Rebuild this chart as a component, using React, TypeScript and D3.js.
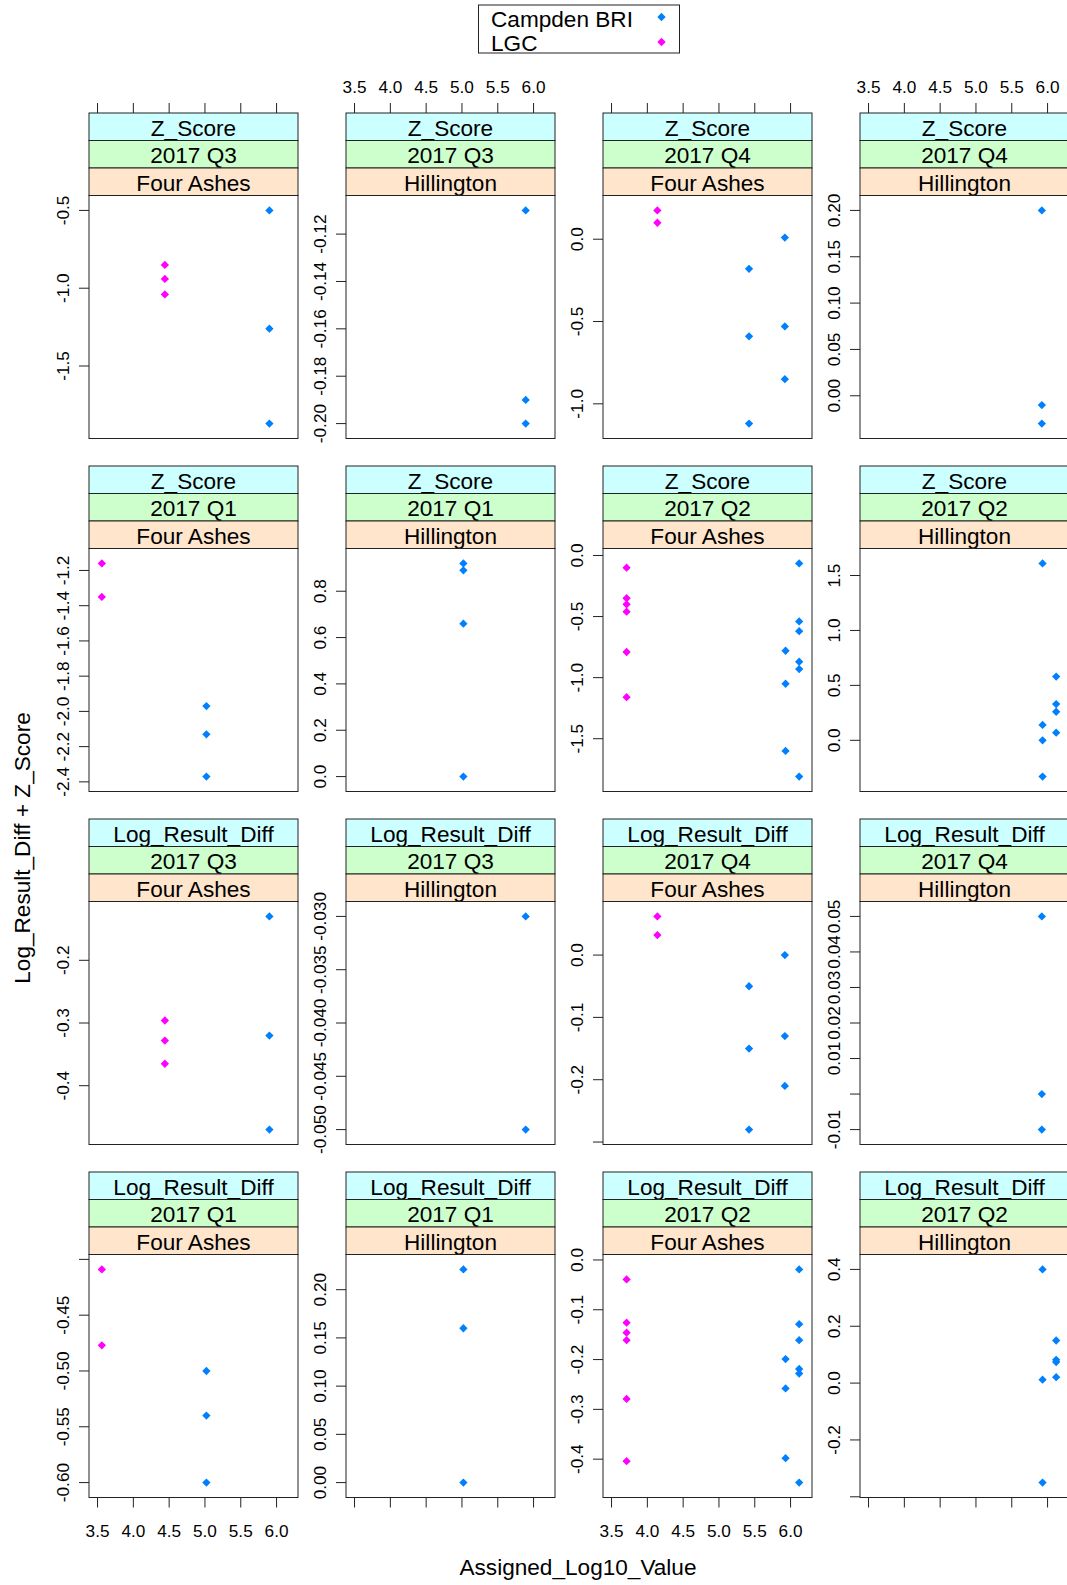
import React from 'react'
import * as d3 from 'd3'

type Pt = [number, number]

const WIDTH = 1067
const HEIGHT = 1585

const SERIES = ['Campden BRI', 'LGC']
const SERIES_COLORS = ['#0080ff', '#ff00ff']
const STRIP_COLORS = ['#ccffff', '#ccffcc', '#ffe5cc']
const X_TICKS = [3.5, 4.0, 4.5, 5.0, 5.5, 6.0]

// pair one Assigned_Log10_Value with the y values read at it
const at = (x: number, ys: number[]): Pt[] => ys.map((y) => [x, y])

// Z_Score
const Z_Q3_FA_CAMPDEN = at(5.9, [-0.5, -1.26, -1.87])
const Z_Q3_FA_LGC = at(4.44, [-0.85, -0.94, -1.04])
const Z_Q3_HI_CAMPDEN = at(5.89, [-0.11, -0.19, -0.2])
const Z_Q4_FA_CAMPDEN = [...at(5.42, [-0.18, -0.59, -1.12]), ...at(5.92, [0.01, -0.53, -0.85])]
const Z_Q4_FA_LGC = at(4.14, [0.175, 0.1])
const Z_Q4_HI_CAMPDEN = at(5.92, [0.2, -0.01, -0.03])
const Z_Q1_FA_CAMPDEN = at(5.02, [-1.97, -2.13, -2.37])
const Z_Q1_FA_LGC = at(3.56, [-1.16, -1.35])
const Z_Q1_HI_CAMPDEN = at(5.02, [0.92, 0.89, 0.66, 0.0])
const Z_Q2_FA_CAMPDEN = [...at(5.93, [-0.78, -1.05, -1.6]), ...at(6.12, [-0.065, -0.54, -0.62, -0.87, -0.93, -1.81])]
const Z_Q2_FA_LGC = at(3.71, [-0.1, -0.35, -0.4, -0.46, -0.79, -1.16])
const Z_Q2_HI_CAMPDEN = [...at(5.93, [1.61, 0.14, 0.0, -0.33]), ...at(6.12, [0.58, 0.33, 0.26, 0.07])]

// Log_Result_Diff
const L_Q3_FA_CAMPDEN = at(5.9, [-0.13, -0.32, -0.47])
const L_Q3_FA_LGC = at(4.44, [-0.296, -0.328, -0.365])
const L_Q3_HI_CAMPDEN = at(5.89, [-0.03, -0.05])
const L_Q4_FA_CAMPDEN = [...at(5.42, [-0.05, -0.15, -0.28]), ...at(5.92, [0.0, -0.13, -0.21])]
const L_Q4_FA_LGC = at(4.14, [0.062, 0.032])
const L_Q4_HI_CAMPDEN = at(5.92, [0.05, 0.0, -0.01])
const L_Q1_FA_CAMPDEN = at(5.02, [-0.5, -0.54, -0.6])
const L_Q1_FA_LGC = at(3.56, [-0.409, -0.477])
const L_Q1_HI_CAMPDEN = at(5.02, [0.221, 0.16, 0.0])
const L_Q2_FA_CAMPDEN = [...at(5.93, [-0.199, -0.258, -0.398]), ...at(6.12, [-0.019, -0.129, -0.161, -0.219, -0.228, -0.447])]
const L_Q2_FA_LGC = at(3.71, [-0.039, -0.126, -0.146, -0.161, -0.279, -0.404])
const L_Q2_HI_CAMPDEN = [...at(5.93, [0.4, 0.012, -0.35]), ...at(6.12, [0.15, 0.082, 0.074, 0.021])]

// y ticks per panel, and the tick values whose labels lattice dropped
const PANELS = [
  { v: 'Z_Score', q: '2017 Q3', s: 'Four Ashes', pts: [Z_Q3_FA_CAMPDEN, Z_Q3_FA_LGC], ticks: [-1.5, -1.0, -0.5], hide: [] },
  { v: 'Z_Score', q: '2017 Q3', s: 'Hillington', pts: [Z_Q3_HI_CAMPDEN, []], ticks: [-0.2, -0.18, -0.16, -0.14, -0.12], hide: [] },
  { v: 'Z_Score', q: '2017 Q4', s: 'Four Ashes', pts: [Z_Q4_FA_CAMPDEN, Z_Q4_FA_LGC], ticks: [-1.0, -0.5, 0.0], hide: [] },
  { v: 'Z_Score', q: '2017 Q4', s: 'Hillington', pts: [Z_Q4_HI_CAMPDEN, []], ticks: [0.0, 0.05, 0.1, 0.15, 0.2], hide: [] },
  { v: 'Z_Score', q: '2017 Q1', s: 'Four Ashes', pts: [Z_Q1_FA_CAMPDEN, Z_Q1_FA_LGC], ticks: [-2.4, -2.2, -2.0, -1.8, -1.6, -1.4, -1.2], hide: [] },
  { v: 'Z_Score', q: '2017 Q1', s: 'Hillington', pts: [Z_Q1_HI_CAMPDEN, []], ticks: [0.0, 0.2, 0.4, 0.6, 0.8], hide: [] },
  { v: 'Z_Score', q: '2017 Q2', s: 'Four Ashes', pts: [Z_Q2_FA_CAMPDEN, Z_Q2_FA_LGC], ticks: [-1.5, -1.0, -0.5, 0.0], hide: [] },
  { v: 'Z_Score', q: '2017 Q2', s: 'Hillington', pts: [Z_Q2_HI_CAMPDEN, []], ticks: [0.0, 0.5, 1.0, 1.5], hide: [] },
  { v: 'Log_Result_Diff', q: '2017 Q3', s: 'Four Ashes', pts: [L_Q3_FA_CAMPDEN, L_Q3_FA_LGC], ticks: [-0.4, -0.3, -0.2], hide: [] },
  { v: 'Log_Result_Diff', q: '2017 Q3', s: 'Hillington', pts: [L_Q3_HI_CAMPDEN, []], ticks: [-0.05, -0.045, -0.04, -0.035, -0.03], hide: [] },
  { v: 'Log_Result_Diff', q: '2017 Q4', s: 'Four Ashes', pts: [L_Q4_FA_CAMPDEN, L_Q4_FA_LGC], ticks: [-0.3, -0.2, -0.1, 0.0], hide: [-0.3] },
  { v: 'Log_Result_Diff', q: '2017 Q4', s: 'Hillington', pts: [L_Q4_HI_CAMPDEN, []], ticks: [-0.01, 0.0, 0.01, 0.02, 0.03, 0.04, 0.05], hide: [0.0] },
  { v: 'Log_Result_Diff', q: '2017 Q1', s: 'Four Ashes', pts: [L_Q1_FA_CAMPDEN, L_Q1_FA_LGC], ticks: [-0.6, -0.55, -0.5, -0.45, -0.4], hide: [-0.4] },
  { v: 'Log_Result_Diff', q: '2017 Q1', s: 'Hillington', pts: [L_Q1_HI_CAMPDEN, []], ticks: [0.0, 0.05, 0.1, 0.15, 0.2], hide: [] },
  { v: 'Log_Result_Diff', q: '2017 Q2', s: 'Four Ashes', pts: [L_Q2_FA_CAMPDEN, L_Q2_FA_LGC], ticks: [-0.4, -0.3, -0.2, -0.1, 0.0], hide: [] },
  { v: 'Log_Result_Diff', q: '2017 Q2', s: 'Hillington', pts: [L_Q2_HI_CAMPDEN, []], ticks: [-0.4, -0.2, 0.0, 0.2, 0.4], hide: [-0.4] },
]

const FONT = 'Liberation Sans, Arial, Helvetica, sans-serif'
const BIG = 22.6
const SMALL = 17.2

const LEFT0 = 89
const COL_STEP = 257
const PANEL_W = 209
const TOP0 = 113
const ROW_STEP = 353
const STRIP_H = 27.5
const PANEL_H = 243
const TICK = 10

const allX = PANELS.flatMap((p) => p.pts.flat().map((d) => d[0]))
const [xMin, xMax] = d3.extent(allX) as [number, number]
const xPad = (xMax - xMin) * 0.07
const X_DOMAIN: [number, number] = [xMin - xPad, xMax + xPad]

const fmt = (dec: number) => {
  const f = d3.format(`.${dec}f`)
  return (v: number) => f(v).replace('\u2212', '-')
}

const diamond = d3.symbol().type(d3.symbolDiamond2).size(44)()

function Panel({ p, row, col }: { p: (typeof PANELS)[number]; row: number; col: number }) {
  const left = LEFT0 + col * COL_STEP
  const right = left + PANEL_W
  const stripTop = TOP0 + row * ROW_STEP
  const top = stripTop + 3 * STRIP_H
  const bottom = top + PANEL_H

  const x = d3.scaleLinear().domain(X_DOMAIN).range([left, right])
  const ys = p.pts.flat().map((d) => d[1])
  const [lo, hi] = d3.extent(ys) as [number, number]
  const pad = (hi - lo) * 0.07
  const y = d3.scaleLinear().domain([lo - pad, hi + pad]).range([bottom, top])
  const step = +Math.abs(p.ticks[1] - p.ticks[0]).toFixed(6)
  const yFmt = fmt(d3.precisionFixed(step))
  const xFmt = fmt(1)

  const strips = [p.v, p.q, p.s]

  return (
    <g>
      {strips.map((label, i) => (
        <g key={i}>
          <rect x={left} y={stripTop + i * STRIP_H} width={PANEL_W} height={STRIP_H} fill={STRIP_COLORS[i]} />
          <text x={(left + right) / 2} y={stripTop + i * STRIP_H + 22.5} textAnchor="middle" fontSize={BIG}>
            {label}
          </text>
          <rect x={left} y={stripTop + i * STRIP_H} width={PANEL_W} height={STRIP_H} fill="none" stroke="#222" />
        </g>
      ))}
      <rect x={left} y={top} width={PANEL_W} height={PANEL_H} fill="#fff" stroke="#222" />

      {p.ticks.map((t) => (
        <g key={t}>
          <line x1={left - TICK} x2={left} y1={y(t)} y2={y(t)} stroke="#222" />
          {!p.hide.includes(t) && (
            <text
              transform={`translate(${left - 20},${y(t)}) rotate(-90)`}
              textAnchor="middle"
              fontSize={SMALL}
            >
              {yFmt(t)}
            </text>
          )}
        </g>
      ))}

      {row === 0 &&
        X_TICKS.map((t) => (
          <g key={`t${t}`}>
            <line x1={x(t)} x2={x(t)} y1={stripTop - TICK} y2={stripTop} stroke="#222" />
            {col % 2 === 1 && (
              <text x={x(t)} y={stripTop - 20} textAnchor="middle" fontSize={SMALL}>
                {xFmt(t)}
              </text>
            )}
          </g>
        ))}
      {row === 3 &&
        X_TICKS.map((t) => (
          <g key={`b${t}`}>
            <line x1={x(t)} x2={x(t)} y1={bottom} y2={bottom + TICK} stroke="#222" />
            {col % 2 === 0 && (
              <text x={x(t)} y={bottom + 39} textAnchor="middle" fontSize={SMALL}>
                {xFmt(t)}
              </text>
            )}
          </g>
        ))}

      {p.pts.map((series, si) =>
        series.map((d, i) => (
          <path key={`${si}-${i}`} d={diamond} transform={`translate(${x(d[0])},${y(d[1])})`} fill={SERIES_COLORS[si]} />
        )),
      )}
    </g>
  )
}

export default function App() {
  return (
    <svg
      width={WIDTH}
      height={HEIGHT}
      style={{ position: 'absolute', left: 0, top: 0, background: '#fff' }}
      fontFamily={FONT}
      fill="#000"
    >
      <rect x={0} y={0} width={WIDTH} height={HEIGHT} fill="#fff" />

      <g>
        <rect x={478.5} y={5} width={201} height={48} fill="#fff" stroke="#222" />
        {SERIES.map((name, i) => (
          <g key={name}>
            <text x={491} y={27 + i * 24.3} fontSize={BIG}>
              {name}
            </text>
            <path d={diamond} transform={`translate(661.5,${17 + i * 25})`} fill={SERIES_COLORS[i]} />
          </g>
        ))}
      </g>

      {PANELS.map((p, i) => (
        <Panel key={i} p={p} row={Math.floor(i / 4)} col={i % 4} />
      ))}

      <text x={578} y={1575} textAnchor="middle" fontSize={BIG}>
        Assigned_Log10_Value
      </text>
      <text transform="translate(30,848) rotate(-90)" textAnchor="middle" fontSize={BIG}>
        Log_Result_Diff + Z_Score
      </text>
    </svg>
  )
}
